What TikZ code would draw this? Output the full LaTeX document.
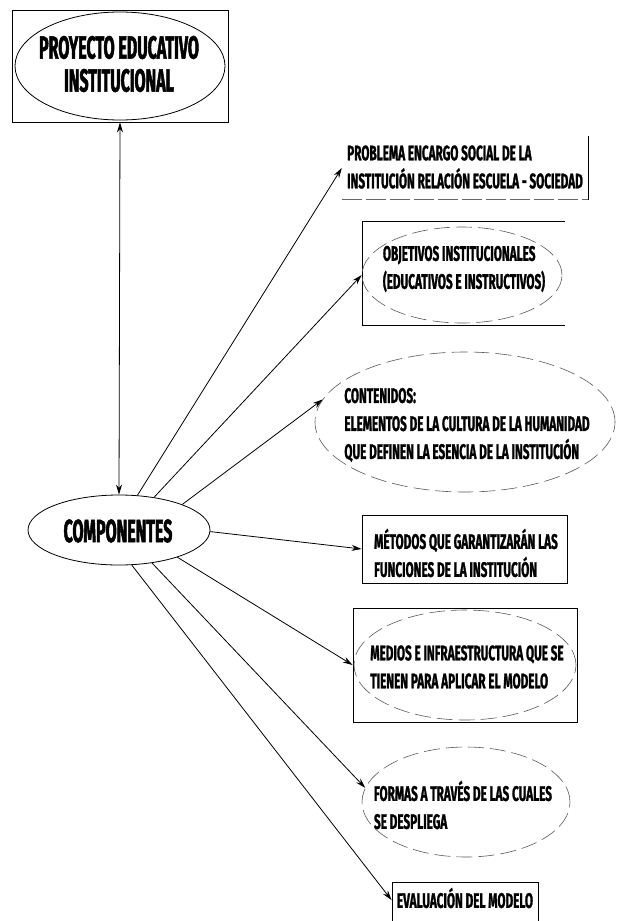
\documentclass[tikz,border=0pt]{standalone}
\usepackage{fontspec}
\newfontfamily\labelfont[FakeStretch=0.56,FakeBold=1.2]{Fira Sans}
\newfontfamily\titlefont[FakeStretch=0.5,FakeBold=1.5]{Fira Sans}
\usetikzlibrary{arrows.meta,shapes.geometric}

\tikzset{
  labeltext/.style={font=\labelfont\bfseries\fontsize{21}{28}\selectfont, align=left, inner sep=0pt},
  titletext/.style={font=\titlefont\bfseries\fontsize{32}{33}\selectfont, align=center, inner sep=0pt},
  box/.style={draw, rectangle, line width=0.8pt, inner sep=0pt},
  oval/.style={draw, ellipse, line width=0.8pt, inner sep=0pt},
  dashoval/.style={draw=black!65, ellipse, line width=0.6pt, inner sep=0pt,
    dash pattern=on 16pt off 6pt},
  link/.style={line width=0.8pt, -{Stealth[length=10pt,width=6pt]}},
}

\begin{document}
\begin{tikzpicture}[x=1pt,y=-1pt]
  \useasboundingbox (0,0) rectangle (616,921);

  % proyecto educativo
  \node[box, minimum width=216pt, minimum height=112pt] (peibox) at (120,66) {};
  \node[oval, minimum width=210pt, minimum height=108pt] (peioval) at (120,66) {};
  \node[titletext] (peitext) at (119,64) {PROYECTO EDUCATIVO\\INSTITUCIONAL};

  % componentes
  \node[oval, minimum width=182pt, minimum height=70pt] (comp) at (119,530) {};
  \node[titletext] (comptext) at (118,531) {COMPONENTES};

  % problema
  \node[minimum width=246pt, minimum height=63pt, inner sep=0pt] (prob) at (465,168) {};
  \node[labeltext] (probtext) at (465,167) {PROBLEMA ENCARGO SOCIAL DE LA\\INSTITUCIÓN RELACIÓN ESCUELA - SOCIEDAD};
  \draw[line width=0.8pt] (prob.north east) -- (prob.south east);
  \draw[black!60, line width=0.6pt, dash pattern=on 20pt off 4pt] (prob.south west) -- (prob.south east);

  % objetivos
  \node[minimum width=202pt, minimum height=103pt, inner sep=0pt] (obj) at (464,273.5) {};
  \draw[line width=0.8pt] (obj.north east) -- (obj.north west) -- (obj.south west) -- (obj.south east);
  \node[dashoval, minimum width=200pt, minimum height=96pt] (objoval) at (462,275) {};
  \node[labeltext] (objtext) at (464,269) {OBJETIVOS INSTITUCIONALES\\(EDUCATIVOS E INSTRUCTIVOS)};

  % contenidos
  \node[dashoval, minimum width=300pt, minimum height=140pt] (contoval) at (465,422) {};
  \node[labeltext] (conttext) at (467,425) {CONTENIDOS:\\ELEMENTOS DE LA CULTURA DE LA HUMANIDAD\\QUE DEFINEN LA ESENCIA DE LA INSTITUCIÓN};

  % metodos
  \node[box, minimum width=205pt, minimum height=68pt] (meth) at (464.5,549) {};
  \node[labeltext] (methtext) at (466,553) {MÉTODOS QUE GARANTIZARÁN LAS\\FUNCIONES DE LA INSTITUCIÓN};

  % medios
  \node[box, minimum width=224pt, minimum height=114pt] (medbox) at (465,665) {};
  \node[dashoval, minimum width=222pt, minimum height=110pt] (medoval) at (465,665) {};
  \node[labeltext] (medtext) at (467,667) {MEDIOS E INFRAESTRUCTURA QUE SE\\TIENEN PARA APLICAR EL MODELO};

  % formas
  \node[dashoval, minimum width=208pt, minimum height=110pt] (formoval) at (466,802) {};
  \node[labeltext] (formtext) at (463,805) {FORMAS A TRAVÉS DE LAS CUALES\\SE DESPLIEGA};

  % evaluacion
  \node[box, minimum width=146pt, minimum height=44pt] (evalbox) at (465,904) {};
  \node[labeltext] (evaltext) at (465,898) {EVALUACIÓN DEL MODELO};

  % conectores
  \draw[line width=0.8pt, {Stealth[length=10pt,width=6pt]}-{Stealth[length=10pt,width=6pt]}]
    (peibox.south) -- (comp.north);
  \draw[link] (comp.62) -- (prob.west);
  \draw[link] (comp.43) -- (objoval.west);
  \draw[link] (comp.22) -- (contoval.171);
  \draw[link] (comp.-1) -- (meth.west);
  \draw[link] (comp.-25) -- (medbox.west);
  \draw[link] (comp.-45) -- (formoval.172);
  \draw[link] (comp.-70) -- (evalbox.177);
\end{tikzpicture}
\end{document}
